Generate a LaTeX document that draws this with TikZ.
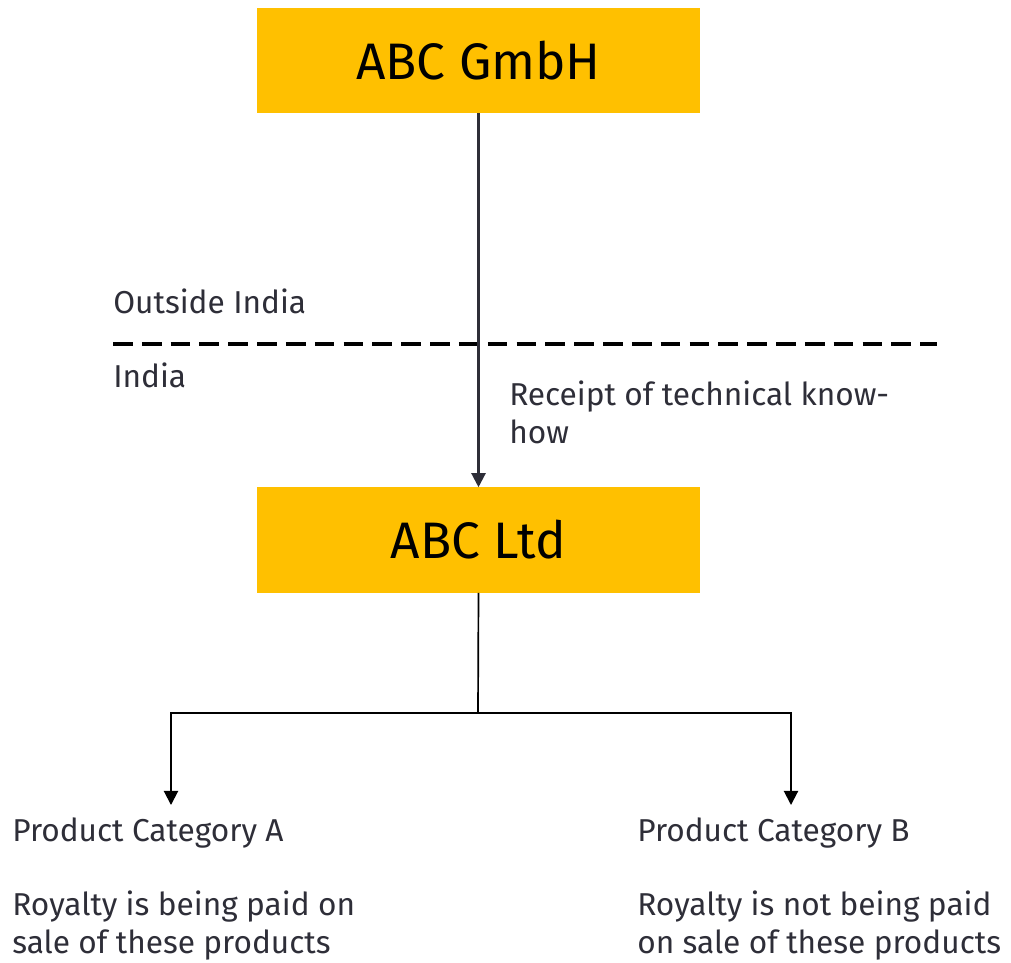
\documentclass[tikz,border=0pt]{standalone}
\usepackage{fontspec}
\setmainfont{Fira Sans}
\usetikzlibrary{arrows.meta}
\definecolor{eyyellow}{HTML}{FFC000}
\definecolor{eygray}{HTML}{2E2E38}
\tikzset{
  entity/.style={rectangle, fill=eyyellow, minimum width=11.075cm, minimum height=2.625cm,
    inner sep=0pt, font=\fontsize{36.5}{42}\selectfont, text=black},
  label/.style={anchor=base west, inner sep=0pt, text=eygray, align=left,
    font=\fontsize{22.5}{27}\selectfont},
  flow/.style={-{Triangle[width=10pt,length=10pt]}, line width=1.6pt},
}
\begin{document}
\begin{tikzpicture}[x=0.025cm, y=-0.025cm]
        \useasboundingbox (0,0) rectangle (1011,962);
        % Entities
        \node[entity] (gmbh) at (478.5,60.5) {ABC GmbH};
        \node[entity] (ltd) at (478.5,540) {ABC Ltd};
        % Border between countries
        \coordinate (borderL) at (113,344);
        \coordinate (borderR) at (937,344);
        \draw[line width=2.2pt, dash pattern=on 14pt off 6.5pt] (borderL) -- (borderR);
        \node[label] (outside) at (113,313) {Outside India};
        \node[label] (india) at (113,387) {India};
        % Know-how flow (base = last line)
        \draw[flow, eygray] (gmbh) -- (ltd);
        \node[label] (receipt) at (509,443) {Receipt of technical know-\\how};
        % Split to product categories
        \coordinate (split) at (478,713);
        \coordinate (catAtip) at (171,805);
        \coordinate (catBtip) at (791,805);
        \draw[line width=1.2pt] (ltd.south) -- (split);
        \draw[flow, line width=1.4pt] (split) -| (catAtip);
        \draw[flow, line width=1.4pt] (split) -| (catBtip);
        \node[label] (catA) at (12,841) {Product Category A};
        \node[label] (royA) at (12,953) {Royalty is being paid on\\sale of these products};
        \node[label] (catB) at (637,841) {Product Category B};
        \node[label] (royB) at (637,953) {Royalty is not being paid\\on sale of these products};
\end{tikzpicture}
\end{document}
